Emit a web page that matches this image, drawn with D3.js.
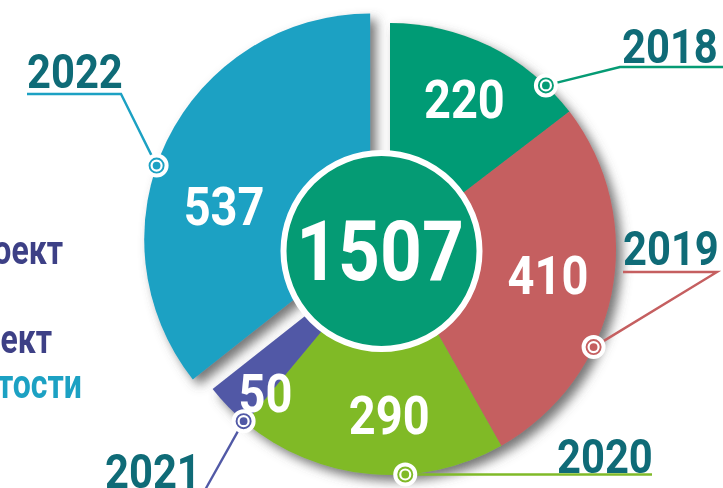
<!DOCTYPE html>
<html>
<head>
<meta charset="utf-8">
<style>
  body { margin: 0; background: #fff; }
  svg { display: block; font-family: Roboto, "Noto Sans", sans-serif; font-weight: 700; }
</style>
</head>
<body>
<svg id="chart" width="723" height="488">
  <defs>
    <filter id="shadow" x="-20%" y="-20%" width="140%" height="140%">
      <feDropShadow dx="6" dy="6" stdDeviation="5.5" flood-color="#555" flood-opacity="0.8"/>
    </filter>
  </defs>
</svg>
<script src="https://cdn.jsdelivr.net/npm/d3@7/dist/d3.min.js"></script>
<script>
  // data
  var years = ["2018", "2019", "2020", "2021", "2022"]
  var values = [220, 410, 290, 50, 537]
  var total = 1507
  var colors = ["#059b74", "#c55f60", "#80ba28", "#5159a6", "#1ca1c3"]
  var sideText = ["Проект", "Объект", "открытости"]
  var sideColors = ["#3d4086", "#3d4086", "#1ca1c3"]

  // layout
  var cx = 390, cy = 249, R = 226
  var explodeIdx = 4, explodeBy = 22
  var markerAt = [0.83, 0.645, 0.37, 0.05, 0.447]   // where on the rim, as share of slice
  var labelAt = [0.5, 0.477, 0.43, 0.1, 0.40]
  var labelR = [168, 160, 166, 190, 150]
  var yearPos = [[622, 63], [623, 265], [557, 473], [105, 488], [27, 88]]
  var sidePos = [[63, 264], [52, 353], [82, 398]]
  var teal = "#0f6b77"
  var squeeze = 0.87

  var svg = d3.select("#chart")
  var pie = d3.pie().sort(null).value((d) => d)
  var arcs = pie(values)
  var arc = d3.arc().innerRadius(0).outerRadius(R)

  function polar(a, r) { return [r * Math.sin(a), -r * Math.cos(a)] }
  function offset(i) {
    if (i !== explodeIdx) return [0, 0]
    var m = (arcs[i].startAngle + arcs[i].endAngle) / 2
    return polar(m, explodeBy)
  }
  function along(i, f) {
    return arcs[i].startAngle + f * (arcs[i].endAngle - arcs[i].startAngle)
  }
  function toPage(i, a, r) {
    var o = offset(i), p = polar(a, r)
    return [cx + o[0] + p[0], cy + o[1] + p[1]]
  }

  // exploded slice first, so the others sit over its shadow
  var gBig = svg.append("g").attr("filter", "url(#shadow)")
  var gRest = svg.append("g").attr("filter", "url(#shadow)")
  arcs.forEach((d, i) => {
    var o = offset(i)
    var g = i === explodeIdx ? gBig : gRest
    g.append("path")
      .attr("transform", "translate(" + (cx + o[0]) + "," + (cy + o[1]) + ")")
      .attr("d", arc(d))
      .attr("fill", colors[i])
  })

  // value labels
  arcs.forEach((d, i) => {
    var p = toPage(i, along(i, labelAt[i]), labelR[i])
    svg.append("g")
      .attr("transform", "translate(" + p[0] + "," + p[1] + ") scale(" + squeeze + ",1)")
      .append("text")
      .attr("text-anchor", "middle")
      .attr("dy", "0.36em")
      .attr("font-size", 54)
      .attr("fill", "#fff")
      .text(values[i])
  })

  // centre total
  svg.append("circle")
    .attr("cx", 381.5).attr("cy", 251).attr("r", 98)
    .attr("fill", colors[0])
    .attr("stroke", "#fff").attr("stroke-width", 6)
  svg.append("g")
    .attr("transform", "translate(380,250) scale(" + squeeze + ",1)")
    .append("text")
    .attr("text-anchor", "middle")
    .attr("dy", "0.36em")
    .attr("font-size", 84)
    .attr("fill", "#fff")
    .text(total)

  // leader lines, underlines and markers
  var markers = arcs.map((d, i) => toPage(i, along(i, markerAt[i]), R))
  var leaders = [
    (m, p) => [m, [p[0] - 2, p[1] + 4], [725, p[1] + 4]],
    (m, p) => [m, [p[0] + 94, p[1] + 7], [p[0], p[1] + 7]],
    (m, p) => [m, [p[0] + 95, m[1]]],
    (m, p) => [m, [p[0] + 100, p[1] + 2]],
    (m, p) => [[p[0], p[1] + 6], [p[0] + 94, p[1] + 6], m]
  ]
  var line = d3.line()
  years.forEach((y, i) => {
    var p = yearPos[i]
    svg.append("path")
      .attr("d", line(leaders[i](markers[i], p)))
      .attr("fill", "none")
      .attr("stroke", colors[i])
      .attr("stroke-width", 2.4)
    svg.append("g")
      .attr("transform", "translate(" + p[0] + "," + p[1] + ") scale(" + squeeze + ",1)")
      .append("text")
      .attr("font-size", 48)
      .attr("fill", teal)
      .text(y)
    svg.append("circle")
      .attr("cx", markers[i][0]).attr("cy", markers[i][1]).attr("r", 10)
      .attr("fill", colors[i]).attr("stroke", "#fff").attr("stroke-width", 4)
    svg.append("circle")
      .attr("cx", markers[i][0]).attr("cy", markers[i][1]).attr("r", 5)
      .attr("fill", colors[i]).attr("stroke", "#fff").attr("stroke-width", 2.2)
  })

  // legend text cut by the left edge, as in the source
  sideText.forEach((t, i) => {
    svg.append("g")
      .attr("transform", "translate(" + sidePos[i][0] + "," + sidePos[i][1] + ") scale(0.8,1)")
      .append("text")
      .attr("text-anchor", "end")
      .attr("font-size", 40)
      .attr("fill", sideColors[i])
      .text(t)
  })
</script>
</body>
</html>
